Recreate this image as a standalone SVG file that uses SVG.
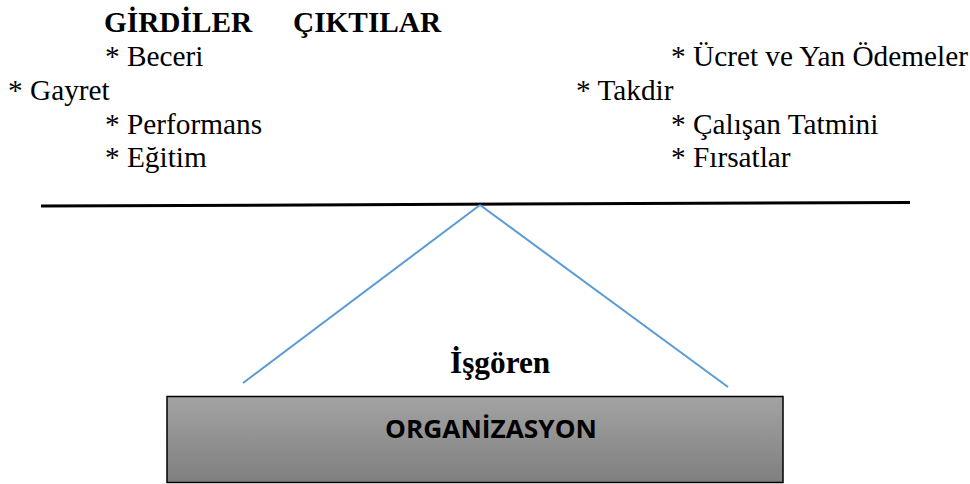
<svg xmlns="http://www.w3.org/2000/svg" width="970" height="484" viewBox="0 0 970 484">
<defs>
<linearGradient id="g" x1="0" y1="0" x2="0" y2="1">
<stop offset="0" stop-color="#a3a3a3"/>
<stop offset="1" stop-color="#7f7f7f"/>
</linearGradient>
</defs>
<style>
.t{font-family:'Liberation Serif','Times New Roman',serif;font-size:29.3px;fill:#000}
.h{font-family:'Liberation Serif','Times New Roman',serif;font-size:29.3px;font-weight:bold;fill:#000}
.o{font-family:'Open Sans','Liberation Sans',sans-serif;font-size:25px;font-weight:bold;fill:#000}
.c{stroke:#5b9bd5;stroke-width:2;fill:none}
</style>
<rect width="970" height="484" fill="#fff"/>
<g id="headers">
<text class="h" x="104" y="32">GİRDİLER</text>
<text class="h" x="293" y="32">ÇIKTILAR</text>
</g>
<g id="inputs">
<text class="t" x="105" y="66">* Beceri</text>
<text class="t" x="8" y="99.5">* Gayret</text>
<text class="t" x="105" y="133.5">* Performans</text>
<text class="t" x="105" y="167">* Eğitim</text>
</g>
<g id="outputs">
<text class="t" x="671" y="66">* Ücret ve Yan Ödemeler</text>
<text class="t" x="576" y="99.5">* Takdir</text>
<text class="t" x="671" y="133.5">* Çalışan Tatmini</text>
<text class="t" x="671" y="167">* Fırsatlar</text>
</g>
<g id="beam">
<line x1="41" y1="206" x2="910" y2="202.5" stroke="#000" stroke-width="3"/>
</g>
<g id="connectors">
<line class="c" x1="480" y1="205" x2="243" y2="383"/>
<line class="c" x1="480" y1="205" x2="728" y2="387"/>
</g>
<g id="isgoren">
<text class="h" x="450" y="373" style="font-size:31.3px">İşgören</text>
</g>
<g id="organizasyon">
<rect x="167" y="396.5" width="616" height="86" fill="url(#g)" stroke="#000" stroke-width="1.5"/>
<text class="o" x="385" y="438" textLength="212" lengthAdjust="spacingAndGlyphs">ORGANİZASYON</text>
</g>
</svg>
